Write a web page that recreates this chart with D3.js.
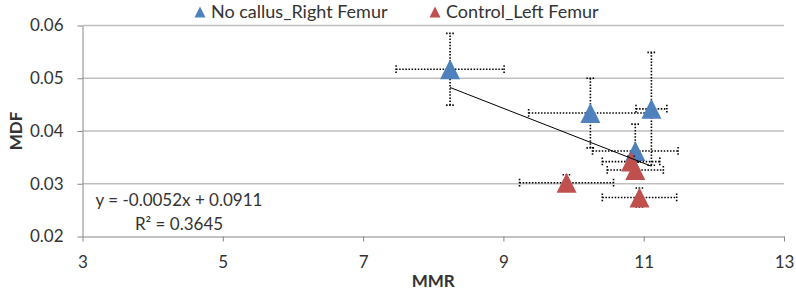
<!DOCTYPE html>
<html>
<head>
<meta charset="utf-8">
<script src="https://cdn.jsdelivr.net/npm/d3@7"></script>
<style>
  body { margin: 0; background: #fff; }
  svg text { font-family: Lato, "Open Sans", sans-serif; fill: #333; }
</style>
</head>
<body>
<svg id="chart" width="796" height="292"></svg>
<script>
// series names (legend order)
const seriesNames = ["No callus_Right Femur", "Control_Left Femur"];
const seriesColors = ["#4f81bd", "#c0504d"];

// No callus_Right Femur
const blueMMR = [8.24, 10.24, 11.11, 10.88];
const blueMDF = [0.0517, 0.0434, 0.0442, 0.0362];
const blueMMRerr = [0.77, 0.88, 0.22, 0.61];
const blueMDFerr = [0.0068, 0.0066, 0.0107, 0.0051];

// Control_Left Femur
const redMMR = [9.90, 10.82, 10.88, 10.94];
const redMDF = [0.0302, 0.0342, 0.0326, 0.0274];
const redMMRerr = [0.67, 0.41, 0.40, 0.53];
const redMDFerr = [0.0015, 0.0010, 0.0015, 0.0018];

// linear trendline (blue series)
const trendSlope = -0.0052;
const trendIntercept = 0.0911;
const trendLabels = ["y = -0.0052x + 0.0911", "R\u00b2 = 0.3645"];

const xTicks = [3, 5, 7, 9, 11, 13];
const yTicks = [0.02, 0.03, 0.04, 0.05, 0.06];
const xTitle = "MMR";
const yTitle = "MDF";

const margin = { top: 25.5, left: 82.5, right: 12, bottom: 55.5 };
const width = 796, height = 292;

const svg = d3.select("#chart");

const x = d3.scaleLinear().domain([3, 13]).range([margin.left, width - margin.right]);
const y = d3.scaleLinear().domain([0.02, 0.06]).range([height - margin.bottom, margin.top]);

// gridlines
svg.append("g")
    .selectAll("line")
    .data(yTicks.slice(1))
    .enter()
    .append("line")
    .attr("x1", x(3)).attr("x2", x(13))
    .attr("y1", d => y(d)).attr("y2", d => y(d))
    .attr("stroke", "#bfbfbf")
    .attr("stroke-width", 1.5);

// axes
const yAxis = svg.append("g")
    .attr("transform", `translate(${x(3)},0)`)
    .call(d3.axisLeft(y).tickValues(yTicks).tickFormat(d3.format(".2f"))
        .tickSize(5).tickSizeOuter(0).tickPadding(14));
const xAxis = svg.append("g")
    .attr("transform", `translate(0,${y(0.02)})`)
    .call(d3.axisBottom(x).tickValues(xTicks).tickFormat(d3.format("d"))
        .tickSize(5).tickSizeOuter(0).tickPadding(14));
[xAxis, yAxis].forEach(a => {
    a.select(".domain").attr("stroke", "#868686");
    a.selectAll(".tick line").attr("stroke", "#868686");
    a.selectAll(".tick text").style("font-size", "17px").attr("fill", "#333");
});

// axis titles
svg.append("text")
    .attr("x", (x(3) + x(13)) / 2).attr("y", 287)
    .attr("text-anchor", "middle")
    .style("font-size", "17px").style("font-weight", "bold")
    .text(xTitle);
svg.append("text")
    .attr("transform", `translate(22,${(y(0.02) + y(0.06)) / 2}) rotate(-90)`)
    .attr("text-anchor", "middle")
    .style("font-size", "17px").style("font-weight", "bold")
    .text(yTitle);

const tri = s => `M0,${-s / 2}L${s / 2},${s / 2}L${-s / 2},${s / 2}Z`;

function drawSeries(xs, ys, xe, ye, color) {
    const pts = xs.map((v, i) => ({ x: v, y: ys[i], xe: xe[i], ye: ye[i] }));
    const g = svg.append("g");
    const cap = 4;
    const bars = g.selectAll(".err").data(pts).enter().append("g")
        .attr("stroke", "#000").attr("stroke-width", 1.6)
        .attr("stroke-dasharray", "1.5,1.6").attr("fill", "none");
    // horizontal
    bars.append("line")
        .attr("x1", d => x(d.x - d.xe)).attr("x2", d => x(d.x + d.xe))
        .attr("y1", d => y(d.y)).attr("y2", d => y(d.y));
    bars.append("line")
        .attr("x1", d => x(d.x - d.xe)).attr("x2", d => x(d.x - d.xe))
        .attr("y1", d => y(d.y) - cap).attr("y2", d => y(d.y) + cap);
    bars.append("line")
        .attr("x1", d => x(d.x + d.xe)).attr("x2", d => x(d.x + d.xe))
        .attr("y1", d => y(d.y) - cap).attr("y2", d => y(d.y) + cap);
    // vertical
    bars.append("line")
        .attr("x1", d => x(d.x)).attr("x2", d => x(d.x))
        .attr("y1", d => y(d.y - d.ye)).attr("y2", d => y(d.y + d.ye));
    bars.append("line")
        .attr("x1", d => x(d.x) - cap).attr("x2", d => x(d.x) + cap)
        .attr("y1", d => y(d.y - d.ye)).attr("y2", d => y(d.y - d.ye));
    bars.append("line")
        .attr("x1", d => x(d.x) - cap).attr("x2", d => x(d.x) + cap)
        .attr("y1", d => y(d.y + d.ye)).attr("y2", d => y(d.y + d.ye));

    g.selectAll(".pt").data(pts).enter().append("path")
        .attr("d", tri(20))
        .attr("transform", d => `translate(${x(d.x)},${y(d.y)})`)
        .attr("fill", color);
}

drawSeries(blueMMR, blueMDF, blueMMRerr, blueMDFerr, seriesColors[0]);
drawSeries(redMMR, redMDF, redMMRerr, redMDFerr, seriesColors[1]);

// trendline
const tx = d3.extent(blueMMR);
svg.append("line")
    .attr("x1", x(tx[0])).attr("y1", y(trendSlope * tx[0] + trendIntercept))
    .attr("x2", x(tx[1])).attr("y2", y(trendSlope * tx[1] + trendIntercept))
    .attr("stroke", "#000").attr("stroke-width", 1);

svg.append("g").selectAll("text")
    .data(trendLabels)
    .enter()
    .append("text")
    .attr("x", 179).attr("y", (d, i) => 206 + i * 24)
    .attr("text-anchor", "middle")
    .style("font-size", "17px")
    .text(d => d);

// legend
const legendX = [200, 435];
const legend = svg.append("g").selectAll("g")
    .data(seriesNames)
    .enter()
    .append("g")
    .attr("transform", (d, i) => `translate(${legendX[i]},12)`);
legend.append("path")
    .attr("d", tri(11))
    .attr("fill", (d, i) => seriesColors[i]);
legend.append("text")
    .attr("x", 11).attr("y", 6)
    .style("font-size", "18px")
    .text(d => d);
</script>
</body>
</html>
